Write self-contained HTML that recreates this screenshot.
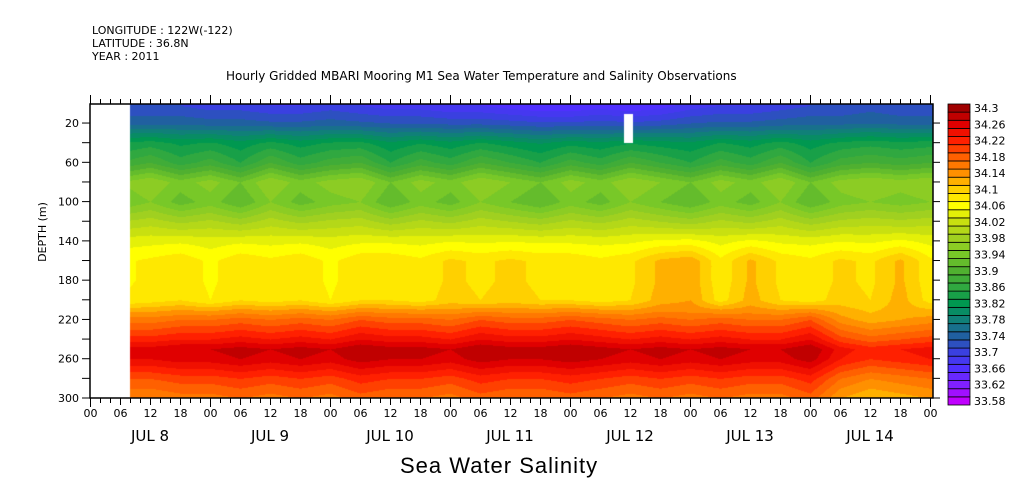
<!DOCTYPE html>
<html><head><meta charset="utf-8">
<style>
body{margin:0;background:#fff;width:1009px;height:504px;overflow:hidden;position:relative;font-family:"DejaVu Sans","Liberation Sans",sans-serif;}
.t{position:absolute;font-size:11px;color:#000;white-space:nowrap;}
canvas,svg{position:absolute;left:0;top:0;}
</style></head><body>
<div class="t" style="left:92px;top:24px;">LONGITUDE : 122W(-122)</div>
<div class="t" style="left:92px;top:37px;">LATITUDE : 36.8N</div>
<div class="t" style="left:92px;top:50px;">YEAR : 2011</div>
<div class="t" style="left:226px;top:69px;font-size:12px;">Hourly Gridded MBARI Mooring M1 Sea Water Temperature and Salinity Observations</div>
<canvas id="cv" width="1009" height="504"></canvas>
<svg id="sv" width="1009" height="504"></svg>
<div class="t" style="left:400px;top:453px;font-size:22px;font-family:'Liberation Sans',sans-serif;letter-spacing:1px;">Sea Water Salinity</div>
<script>
// Data: depth levels (m), base profile, anomalies per 6-hour column starting Jul 8 06:00
const depths=[2,20,40,60,80,100,120,140,160,180,200,210,220,240,250,260,280,300];
const profile=[33.71,33.745,33.83,33.87,33.95,33.93,33.99,34.04,34.065,34.065,34.07,34.12,34.16,34.22,34.26,34.25,34.19,34.15];
const hours=[6,12,18,24,30,36,42,48,54,60,66,72,78,84,90,96,102,108,114,120,126,132,138,144,150,156,162,168];
const topAnom=[0,0,0,-0.01,-0.01,-0.02,-0.02,-0.01,-0.02,-0.03,-0.03,-0.04,-0.04,-0.05,-0.06,-0.06,-0.05,-0.06,-0.05,-0.03,-0.02,-0.02,-0.01,0,0,0.01,0,0];
const shallowAnom=[0,0.02,-0.01,0.01,-0.02,0.02,-0.01,0.01,0.02,-0.02,0.01,-0.01,0.02,0,-0.02,0.01,-0.01,0.02,0,-0.02,0.01,-0.01,0.02,-0.02,0.01,0.02,0.01,0.02];
const midAnom=[0,0.01,0.02,0,0.02,0.01,0.02,0,0.02,0.02,0.01,0.03,0.02,0.03,0.02,0.02,0.01,0.02,0.05,0.06,0.01,0.05,0.02,0.01,0.03,0.02,0.05,0.01];
const deepAnom=[0,0,0.01,0.01,0.02,0.01,0.02,0.01,0.03,0.02,0.02,0.01,0.03,0.02,0.02,0.03,0.02,0.01,0.02,0.01,0.02,0.01,0.01,0.03,-0.02,-0.04,-0.03,-0.02];
const labelValues=[33.58,33.62,33.66,33.70,33.74,33.78,33.82,33.86,33.90,33.94,33.98,34.02,34.06,34.10,34.14,34.18,34.22,34.26,34.30];
const bandColors=['#c000ff','#a010ff','#8020ff','#6828ff','#5030ff','#4538f0','#3a40e0','#2d50c0','#2060a0','#18708c','#108078','#088c64','#009850','#18a048','#30a840','#40ac38','#50b030','#64bc2c','#78c828','#8ccc24','#a0d020','#b4d818','#c8e010','#e4f008','#ffff00','#ffe800','#ffd000','#ffb000','#ff9000','#ff7800','#ff6000','#ff4000','#ff2000','#f01000','#e00000','#c00000','#a00000'];
const startHour=8, endHour=168.6, vmin=33.58, vstep=0.02;

const X0=90,PXH=5,Y0=103.4,PXM=0.982,TOP=104,BOT=398,RIGHT=933;
const xOf=h=>X0+h*PXH, yOf=d=>Y0+d*PXM;
function hexRgb(h){return [parseInt(h.substr(1,2),16),parseInt(h.substr(3,2),16),parseInt(h.substr(5,2),16)];}
function wTop(d){return d<=2?1:d<=20?0.5:d<=40?0.2:0;}
function wShal(d){return (d>=60&&d<=100)?1:(d==40||d==120)?0.5:0;}
function wMid(d){return (d>=150&&d<=200)?1:(d==140||d==210)?0.3:0;}
function wDeep(d){return d>=220?1:d>=210?0.5:0;}
function val(ci,di){const d=depths[di];return profile[di]+topAnom[ci]*wTop(d)+shallowAnom[ci]*wShal(d)+midAnom[ci]*wMid(d)+deepAnom[ci]*wDeep(d);}
function interp(h,d){
  let ci=0;while(ci<hours.length-2&&hours[ci+1]<h)ci++;
  let ft=Math.min(1,Math.max(0,(h-hours[ci])/(hours[ci+1]-hours[ci])));
  let di=0;while(di<depths.length-2&&depths[di+1]<d)di++;
  let fd=Math.min(1,Math.max(0,(d-depths[di])/(depths[di+1]-depths[di])));
  const a=val(ci,di),b=val(ci+1,di),c=val(ci,di+1),e=val(ci+1,di+1);
  return (a*(1-ft)+b*ft)*(1-fd)+(c*(1-ft)+e*ft)*fd;
}
function colorFor(v){let k=Math.round((v-vmin)/vstep);k=Math.max(0,Math.min(bandColors.length-1,k));return bandColors[k];}
const cv=document.getElementById('cv'),ctx=cv.getContext('2d');
const img=ctx.createImageData(1009,504);
const x1=Math.round(xOf(startHour)),x2=Math.round(xOf(endHour));
const cache={};
for(let y=TOP;y<BOT;y++){const d=(y-Y0)/PXM;for(let x=x1;x<x2;x++){const h=(x-X0)/PXH;const c=colorFor(interp(h,d));const rgb=cache[c]||(cache[c]=hexRgb(c));const i=(y*1009+x)*4;img.data[i]=rgb[0];img.data[i+1]=rgb[1];img.data[i+2]=rgb[2];img.data[i+3]=255;}}
ctx.putImageData(img,0,0);
ctx.fillStyle='#fff';ctx.fillRect(624,114,9,29);

const NS='http://www.w3.org/2000/svg',sv=document.getElementById('sv');
function el(t,a,p){const e=document.createElementNS(NS,t);for(const k in a)e.setAttribute(k,a[k]);(p||sv).appendChild(e);return e;}
const frame=el('rect',{x:X0,y:TOP,width:RIGHT-X0,height:BOT-TOP,fill:'none',stroke:'#000','stroke-width':1.5});


for(let h=0;h<=168;h+=2){const x=xOf(h)+0.5,big=h%24==0,lab=h%6==0;
  el('line',{x1:x,x2:x,y1:BOT,y2:BOT+(big?9:lab?7:5),stroke:'#000'});
  el('line',{x1:x,x2:x,y1:TOP,y2:TOP-(big?9:5),stroke:'#000'});
  if(lab){const t=el('text',{x:x,y:417,'font-size':11,'text-anchor':'middle','font-family':'DejaVu Sans,sans-serif'});t.textContent=String(h%24).padStart(2,'0');
    
    }
}
const dayNames=['JUL  8','JUL  9','JUL 10','JUL 11','JUL 12','JUL 13','JUL 14'];
dayNames.forEach((n,i)=>{const t=el('text',{x:xOf(i*24+12),y:441,'font-size':15,'text-anchor':'middle','font-family':'DejaVu Sans,sans-serif','xml:space':'preserve'});t.textContent=n;
  
  });
for(let d=20;d<=300;d+=20){const y=yOf(d);el('line',{x1:X0-8,x2:X0,y1:y,y2:y,stroke:'#000'});el('line',{x1:RIGHT,x2:RIGHT+7,y1:y,y2:y,stroke:'#000'});
  if(d%40==20||d==300){const t=el('text',{x:X0-11,y:y+4,'font-size':11,'text-anchor':'end','font-family':'DejaVu Sans,sans-serif'});t.textContent=d;
    
    }}
const yt=el('text',{x:46,y:232,'font-size':11,'text-anchor':'middle','font-family':'DejaVu Sans,sans-serif',transform:'rotate(-90 46 232)'});yt.textContent='DEPTH (m)';


// colorbar
const CBX=948,CBW=22,CBT=104,CBB=405,n=bandColors.length;
const bh=(CBB-CBT)/n;
for(let k=0;k<n;k++){const y=CBB-(k+1)*bh;
  const r=el('rect',{x:CBX,y:y,width:CBW,height:bh,fill:bandColors[k],stroke:'#000','stroke-width':0.8});
  
  }
labelValues.forEach((v)=>{const k=Math.round((v-vmin)/vstep);const y=CBB-(k+0.5)*bh;const t=el('text',{x:974,y:y+4,'font-size':11,'font-family':'DejaVu Sans,sans-serif'});t.textContent=String(+v.toFixed(2));
  
  });
</script>
</body></html>
